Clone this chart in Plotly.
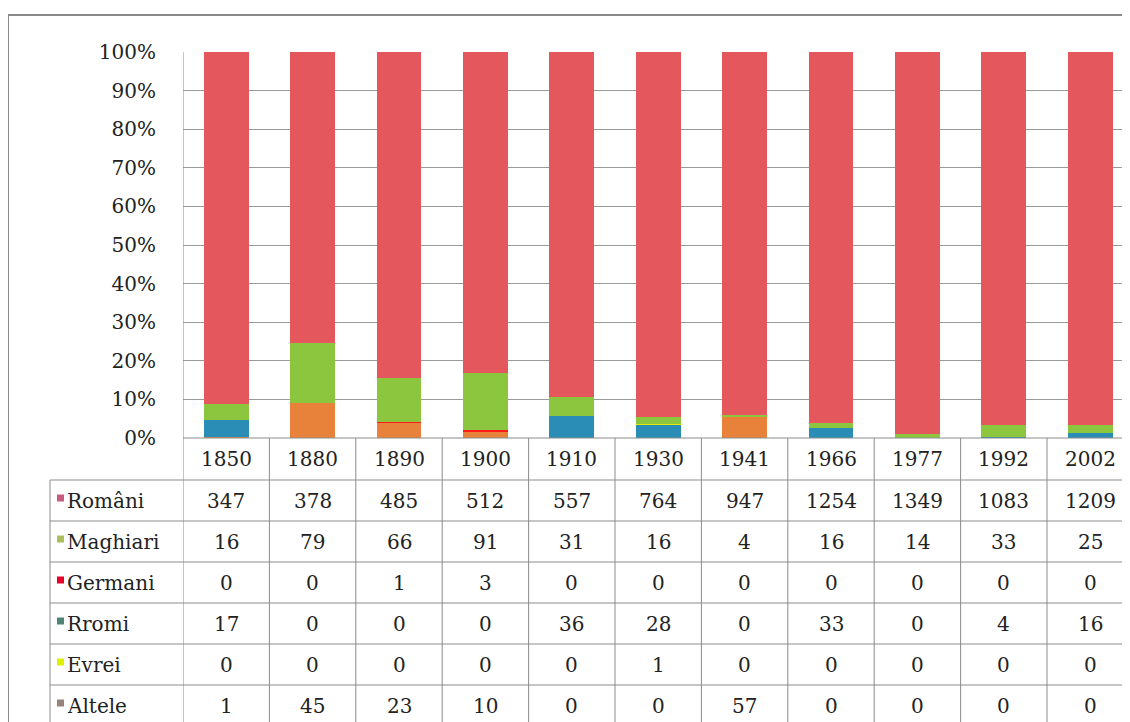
import plotly.graph_objects as go

# ---------------- data ----------------
years = ["1850", "1880", "1890", "1900", "1910", "1930", "1941", "1966", "1977", "1992", "2002"]
romani = [347, 378, 485, 512, 557, 764, 947, 1254, 1349, 1083, 1209]
maghiari = [16, 79, 66, 91, 31, 16, 4, 16, 14, 33, 25]
germani = [0, 0, 1, 3, 0, 0, 0, 0, 0, 0, 0]
rromi = [17, 0, 0, 0, 36, 28, 0, 33, 0, 4, 16]
evrei = [0, 0, 0, 0, 0, 1, 0, 0, 0, 0, 0]
altele = [1, 45, 23, 10, 0, 0, 57, 0, 0, 0, 0]

series_names = ["Români", "Maghiari", "Germani", "Rromi", "Evrei", "Altele"]
series_values = [romani, maghiari, germani, rromi, evrei, altele]
bar_colors = ["#E4575C", "#8CC63E", "#FF1A1A", "#2A8DB5", "#E8E800", "#E8823A"]
legend_colors = ["#C85A82", "#AABE5A", "#E60028", "#508278", "#DCF000", "#968278"]
stack_order = [5, 3, 4, 2, 1, 0]  # bottom -> top

y_ticks = list(range(0, 101, 10))

# ---------------- layout constants (screen pixels) ----------------
W, H = 1130, 722
OFF = 8  # page body margin
plot_left_px = 183
col_w_px = 86.4
y0_px, y100_px = 438, 52
table_left_px = 50
header_h = 42
row_h = 41
FONT = "DejaVu Serif"
FS = 20
LINE = "#8C8C8C"
TXT = "#222222"


def py(ypx):
    return 1 - (ypx - OFF) / H


def px(xpx):
    return (xpx - OFF) / W


x_range = [-0.5, -0.5 + (W + OFF - plot_left_px) / col_w_px]
xs = list(range(len(years)))

fig = go.Figure()
for k in stack_order:
    fig.add_trace(go.Bar(
        x=xs, y=series_values[k], name=series_names[k],
        marker=dict(color=bar_colors[k], line=dict(width=0)),
        width=0.52, showlegend=False, hoverinfo="name+y",
    ))

shapes = []
annotations = []

# outer frame
shapes.append(dict(type="line", xref="paper", yref="paper", x0=px(8), x1=1, y0=py(15), y1=py(15),
                   line=dict(color="#8A8A8A", width=2)))
shapes.append(dict(type="line", xref="paper", yref="paper", x0=px(8), x1=px(8), y0=0, y1=py(15),
                   line=dict(color="#8A8A8A", width=2)))

# left axis line extended into table
shapes.append(dict(type="line", xref="x", yref="paper", x0=-0.5, x1=-0.5, y0=0, y1=py(y100_px),
                   line=dict(color=LINE, width=1)))

# table verticals between year columns
for i in range(len(years)):
    shapes.append(dict(type="line", xref="x", yref="paper", x0=i + 0.5, x1=i + 0.5,
                       y0=0, y1=py(y0_px), line=dict(color=LINE, width=1)))
first_row_top = y0_px + header_h
shapes.append(dict(type="line", xref="paper", yref="paper", x0=px(table_left_px), x1=px(table_left_px),
                   y0=0, y1=py(first_row_top), line=dict(color=LINE, width=1)))
# header top line (0% axis)
shapes.append(dict(type="line", xref="x", yref="paper", x0=-0.5, x1=x_range[1], y0=py(y0_px), y1=py(y0_px),
                   line=dict(color=LINE, width=1)))
# header labels
for i, yr in enumerate(years):
    annotations.append(dict(x=i, y=py(y0_px + header_h / 2), xref="x", yref="paper", text=yr,
                            showarrow=False, font=dict(family=FONT, size=FS, color=TXT),
                            xanchor="center", yanchor="middle"))
# rows
for r, name in enumerate(series_names):
    top = first_row_top + r * row_h
    cy = top + row_h / 2
    shapes.append(dict(type="line", xref="paper", yref="paper", x0=px(table_left_px), x1=1,
                       y0=py(top), y1=py(top), line=dict(color=LINE, width=1)))
    shapes.append(dict(type="rect", xref="paper", yref="paper", x0=px(57), x1=px(64),
                       y0=py(cy + 1), y1=py(cy - 6), line=dict(width=0),
                       fillcolor=legend_colors[r]))
    annotations.append(dict(x=px(65), y=py(cy), xref="paper", yref="paper", text=name,
                            showarrow=False, font=dict(family=FONT, size=FS, color=TXT),
                            xanchor="left", yanchor="middle"))
    for i, v in enumerate(series_values[r]):
        annotations.append(dict(x=i, y=py(cy), xref="x", yref="paper", text=str(v),
                                showarrow=False, font=dict(family=FONT, size=FS, color=TXT),
                                xanchor="center", yanchor="middle"))

fig.update_layout(
    width=W, height=H,
    margin=dict(l=0, r=0, t=0, b=0, autoexpand=False),
    paper_bgcolor="white", plot_bgcolor="white",
    barmode="stack", barnorm="percent", bargap=0,
    shapes=shapes, annotations=annotations,
    xaxis=dict(domain=[px(plot_left_px), 1], range=x_range, showticklabels=False,
               showgrid=False, zeroline=False, showline=False, fixedrange=True),
    yaxis=dict(domain=[py(y0_px), py(y100_px)], range=[0, 100], tickvals=y_ticks,
               ticktext=[f"{t}%" for t in y_ticks], showgrid=True, gridcolor="#9A9A9A",
               gridwidth=1, zeroline=False, showline=False, ticks="", ticklabelstandoff=26,
               tickfont=dict(family=FONT, size=FS, color=TXT), fixedrange=True),
)

fig.write_html("out.html")
